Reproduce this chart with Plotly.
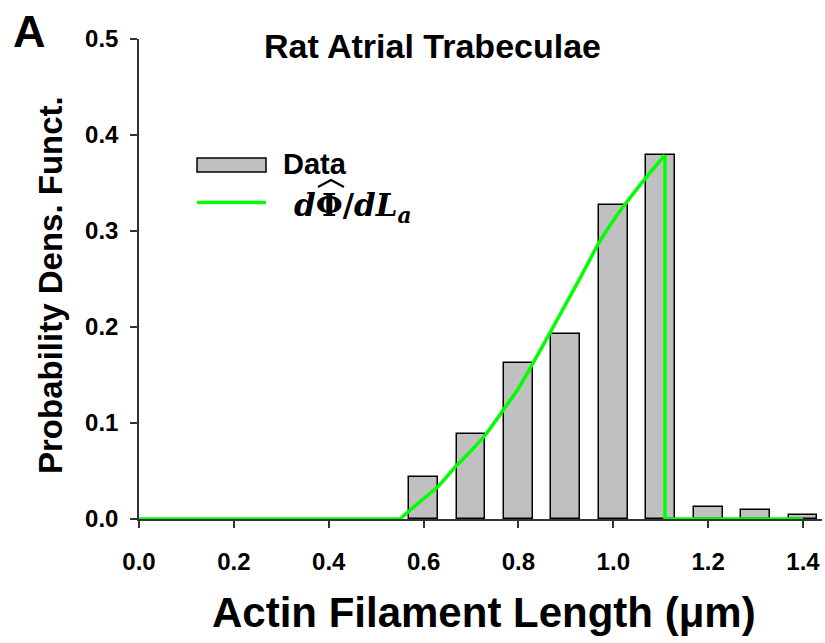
import plotly.graph_objects as go

# ---- data ----
bin_centers = [0.6, 0.7, 0.8, 0.9, 1.0, 1.1, 1.2, 1.3, 1.4]
pdf_values = [0.044, 0.089, 0.163, 0.193, 0.327, 0.379, 0.013, 0.009, 0.004]

flat_x = [0.0, 0.55]
flat_y = [0.0, 0.0]
rise_x = [0.55, 0.59, 0.631, 0.670, 0.700, 0.730, 0.768, 0.800, 0.828, 0.870, 0.900,
          0.930, 0.969, 1.000, 1.028, 1.071, 1.109]
rise_y = [0.0, 0.017, 0.034, 0.056, 0.071, 0.0875, 0.1135, 0.136, 0.160, 0.197, 0.224,
          0.251, 0.287, 0.311, 0.330, 0.357, 0.379]
drop_x = [1.109, 1.109, 1.40]
drop_y = [0.379, 0.0, 0.0]

x_ticks = [0.0, 0.2, 0.4, 0.6, 0.8, 1.0, 1.2, 1.4]
x_tick_labels = ["0.0", "0.2", "0.4", "0.6", "0.8", "1.0", "1.2", "1.4"]
y_ticks = [0.0, 0.1, 0.2, 0.3, 0.4, 0.5]
y_tick_labels = ["0.0", "0.1", "0.2", "0.3", "0.4", "0.5"]

title_text = "Rat Atrial Trabeculae"
x_title = "Actin Filament Length (μm)"
y_title = "Probability Dens. Funct."
panel_label = "A"
legend_data = "Data"
legend_curve = "<b><i>d</i>Φ/<i>dL</i><sub><i>a</i></sub></b>"

# ---- layout geometry (pixels) ----
W, H = 825, 643
L, R, T, B = 139, 3, 39, 124
PW, PH = W - L - R, H - T - B


def px(x):
    return (x - L) / PW


def py(y):
    return (H - B - y) / PH


FONT = "Liberation Sans, Arial, sans-serif"
GREEN = "#00FF00"

fig = go.Figure()
fig.add_trace(go.Bar(
    x=bin_centers, y=pdf_values, width=0.061,
    marker=dict(color="#C0C0C0", line=dict(color="#000000", width=1.5)),
    showlegend=False,
))
fig.add_trace(go.Scatter(x=flat_x, y=flat_y, mode="lines",
                         line=dict(color=GREEN, width=3.5), showlegend=False))
fig.add_trace(go.Scatter(x=rise_x, y=rise_y, mode="lines",
                         line=dict(color=GREEN, width=3.5, shape="spline", smoothing=0.5),
                         showlegend=False))
fig.add_trace(go.Scatter(x=drop_x, y=drop_y, mode="lines",
                         line=dict(color=GREEN, width=3.5), showlegend=False))

axis_common = dict(
    showgrid=False, zeroline=False, showline=True, linecolor="#333333", linewidth=1.5,
    ticks="outside", ticklen=7, tickwidth=1.5, tickcolor="#333333",
    tickfont=dict(family=FONT, size=24, color="#000000", weight="bold"),
)

fig.update_layout(
    width=W, height=H,
    margin=dict(l=L, r=R, t=T, b=B, pad=0),
    paper_bgcolor="white", plot_bgcolor="white",
    bargap=0,
    xaxis=dict(range=[0, 1.44], tickvals=x_ticks, ticktext=x_tick_labels,
               ticklabelstandoff=13, **axis_common),
    yaxis=dict(range=[0, 0.5], tickvals=y_ticks, ticktext=y_tick_labels,
               ticklabelstandoff=7, **axis_common),
    showlegend=False,
)

# legend drawn manually
fig.add_shape(type="rect", xref="paper", yref="paper",
              x0=px(197), x1=px(266), y0=py(172), y1=py(158),
              fillcolor="#C0C0C0", line=dict(color="#000000", width=1.5))
fig.add_shape(type="line", xref="paper", yref="paper",
              x0=px(197), x1=px(266), y0=py(202.5), y1=py(202.5),
              line=dict(color=GREEN, width=3.5))
# wide hat over Phi
hx0, hx1, hy0, hy1 = 318, 344, 187, 180
fig.add_shape(type="path", xref="paper", yref="paper",
              path=f"M {px(hx0)},{py(hy0)} L {px((hx0 + hx1) / 2)},{py(hy1)} L {px(hx1)},{py(hy0)}",
              line=dict(color="#000000", width=2))

ann = []
ann.append(dict(text="<b>" + legend_data + "</b>", x=px(281), y=py(164), xanchor="left", yanchor="middle",
                font=dict(family=FONT, size=29, color="#000000")))
ann.append(dict(text=legend_curve, x=px(292), y=py(207), xanchor="left", yanchor="middle",
                font=dict(family="DejaVu Serif, serif", size=31, color="#000000")))
ann.append(dict(text="<b>" + title_text + "</b>", x=px(432), y=py(46), xanchor="center", yanchor="middle",
                font=dict(family=FONT, size=34, color="#000000")))
ann.append(dict(text="<b>" + x_title + "</b>", x=px(484), y=py(612), xanchor="center", yanchor="middle",
                font=dict(family=FONT, size=42, color="#000000")))
ann.append(dict(text="<b>" + y_title + "</b>", x=px(50), y=py(285), xanchor="center", yanchor="middle",
                textangle=-90, font=dict(family=FONT, size=33, color="#000000")))
ann.append(dict(text="<b>" + panel_label + "</b>", x=px(29), y=py(31), xanchor="center", yanchor="middle",
                font=dict(family=FONT, size=45, color="#000000")))
for a in ann:
    a.update(xref="paper", yref="paper", showarrow=False)
fig.update_layout(annotations=ann)

fig.write_html("out.html")
